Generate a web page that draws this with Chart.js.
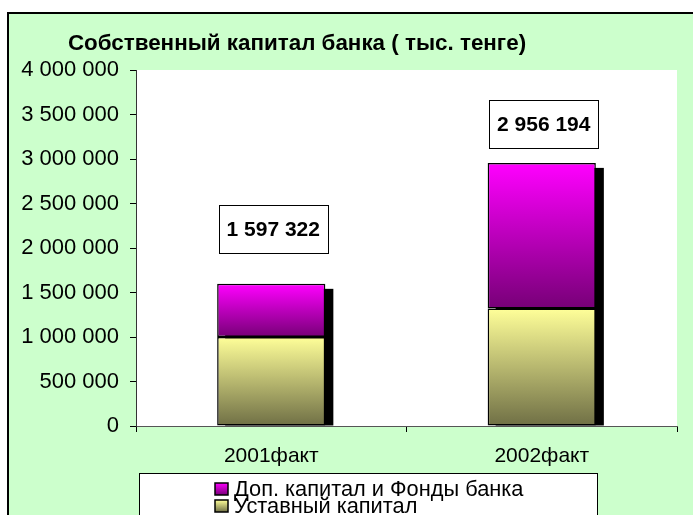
<!DOCTYPE html>
<html>
<head>
<meta charset="utf-8">
<script src="https://cdn.jsdelivr.net/npm/chart.js@4"></script>
<style>
  html, body { margin: 0; padding: 0; background: #fff; }
  #wrap { width: 693px; height: 515px; }
</style>
</head>
<body>
<div id="wrap"><canvas id="capChart" width="693" height="515"></canvas></div>
<script>
// --- DATA ---
const categories = ['2001факт', '2002факт'];
const charterCapital = [1000000, 1320000];      // Уставный капитал
const extraCapital = [597322, 1636194];         // Доп. капитал и Фонды банка
const yTicks = [0, 500000, 1000000, 1500000, 2000000, 2500000, 3000000, 3500000, 4000000];
const titleText = 'Собственный капитал банка ( тыс. тенге)';
const seriesNames = ['Уставный капитал', 'Доп. капитал и Фонды банка'];

const FONT = "'Liberation Sans', Arial, sans-serif";

function fmt(v) {
    return String(v).replace(/\B(?=(\d{3})+(?!\d))/g, ' ');
}

// gradient for each stacked segment, from its own top to bottom
function segGradient(ctx, topColor, bottomColor) {
    const chart = ctx.chart;
    const y = chart.scales.y;
    if (!chart.chartArea || !y || ctx.dataIndex === undefined) return topColor;
    const i = ctx.dataIndex;
    let lo = 0, hi = charterCapital[i];
    if (ctx.datasetIndex === 1) { lo = charterCapital[i]; hi = lo + extraCapital[i]; }
    const y0 = y.getPixelForValue(hi);
    const y1 = y.getPixelForValue(lo);
    const g = chart.ctx.createLinearGradient(0, y0, 0, y1);
    g.addColorStop(0, topColor);
    g.addColorStop(1, bottomColor);
    return g;
}

// background + frame + title
const framePlugin = {
    id: 'frame',
    beforeDraw(chart) {
        const c = chart.ctx;
        c.save();
        c.fillStyle = '#ffffff';
        c.fillRect(0, 0, chart.width, chart.height);
        c.fillStyle = '#ccffcc';
        c.fillRect(8, 13, chart.width, chart.height);
        c.strokeStyle = '#000';
        c.lineWidth = 2;
        c.beginPath();
        c.moveTo(8, chart.height + 2);
        c.lineTo(8, 13);
        c.lineTo(chart.width + 2, 13);
        c.stroke();
        // plot area
        const a = chart.chartArea;
        c.fillStyle = '#ffffff';
        c.fillRect(a.left, a.top, a.right - a.left, a.bottom - a.top);
        // title
        c.fillStyle = '#000';
        c.font = 'bold 22.4px ' + FONT;
        c.textAlign = 'center';
        c.textBaseline = 'alphabetic';
        c.fillText(titleText, 297, 50);
        c.restore();
    }
};

// black shadow behind the stacks
const shadowPlugin = {
    id: 'shadow',
    beforeDatasetsDraw(chart) {
        const c = chart.ctx;
        const m0 = chart.getDatasetMeta(0);
        const m1 = chart.getDatasetMeta(1);
        c.save();
        c.fillStyle = '#000';
        m1.data.forEach((top, i) => {
            const base = m0.data[i].base;
            const w = top.width;
            c.fillRect(top.x - w / 2 + 8, top.y + 5, w, base - top.y - 5);
        });
        c.restore();
    }
};

// total labels in boxes above bars
const totalsPlugin = {
    id: 'totals',
    afterDatasetsDraw(chart, args, opts) {
        const c = chart.ctx;
        const m1 = chart.getDatasetMeta(1);
        c.save();
        c.font = 'bold 21px ' + FONT;
        c.textAlign = 'center';
        c.textBaseline = 'middle';
        m1.data.forEach((el, i) => {
            const total = charterCapital[i] + extraCapital[i];
            const cx = el.x + 2;
            const cy = el.y - opts.lift[i];
            const bw = 109, bh = 48;
            c.fillStyle = '#fff';
            c.fillRect(cx - bw / 2, cy - bh / 2, bw, bh);
            c.strokeStyle = '#000';
            c.lineWidth = 1;
            c.strokeRect(Math.round(cx - bw / 2) + 0.5, Math.round(cy - bh / 2) + 0.5, bw, bh);
            c.fillStyle = '#000';
            c.fillText(fmt(total), cx, cy + 1);
        });
        c.restore();
    }
};

// legend box at the bottom
const legendPlugin = {
    id: 'boxLegend',
    afterDraw(chart) {
        const c = chart.ctx;
        c.save();
        c.fillStyle = '#fff';
        c.fillRect(139, 473, 458, 60);
        c.strokeStyle = '#000';
        c.lineWidth = 1;
        c.strokeRect(139.5, 473.5, 458, 60);
        const items = [
            { label: chart.data.datasets[1].label, top: '#ff00ff', bottom: '#770077', y: 489 },
            { label: chart.data.datasets[0].label, top: '#ffff99', bottom: '#6f6f45', y: 506 }
        ];
        c.font = '21.8px ' + FONT;
        c.textAlign = 'left';
        c.textBaseline = 'middle';
        items.forEach(it => {
            const g = c.createLinearGradient(0, it.y - 6, 0, it.y + 6);
            g.addColorStop(0, it.top);
            g.addColorStop(1, it.bottom);
            c.fillStyle = g;
            c.fillRect(215, it.y - 6, 13, 12);
            c.strokeStyle = '#000';
            c.lineWidth = 1.5;
            c.strokeRect(215, it.y - 6, 13, 12);
            c.fillStyle = '#000';
            c.fillText(it.label, 234, it.y + 1);
        });
        c.restore();
    }
};

new Chart(document.getElementById('capChart'), {
    type: 'bar',
    data: {
        labels: categories,
        datasets: [{
            label: seriesNames[0],
            data: charterCapital,
            backgroundColor: ctx => segGradient(ctx, '#ffff99', '#6f6f45'),
            borderColor: '#000',
            borderWidth: 1.5,
            borderSkipped: false,
            barPercentage: 0.4,
            categoryPercentage: 1
        }, {
            label: seriesNames[1],
            data: extraCapital,
            backgroundColor: ctx => segGradient(ctx, '#ff00ff', '#770077'),
            borderColor: '#000',
            borderWidth: 1.5,
            borderSkipped: false,
            barPercentage: 0.4,
            categoryPercentage: 1
        }]
    },
    options: {
        responsive: false,
        animation: false,
        events: [],
        layout: { padding: { top: 70, right: 16, left: 0, bottom: 0 } },
        plugins: {
            legend: { display: false },
            title: { display: false },
            tooltip: { enabled: false },
            totals: { lift: [55, 39] }
        },
        scales: {
            x: {
                stacked: true,
                afterFit: s => { s.height = 89; },
                grid: { offset: true, drawOnChartArea: false, drawTicks: true, tickLength: 6, color: '#000' },
                border: { display: true, color: '#555', width: 1 },
                ticks: { color: '#000', font: { family: FONT, size: 21 }, padding: 12, maxRotation: 0 }
            },
            y: {
                stacked: true,
                min: 0,
                max: 4000000,
                afterFit: s => { s.width = 136; },
                afterBuildTicks: s => { s.ticks = yTicks.map(v => ({ value: v })); },
                grid: { drawOnChartArea: false, drawTicks: true, tickLength: 6, color: '#000' },
                border: { display: true, color: '#333', width: 1 },
                ticks: { color: '#000', font: { family: FONT, size: 22 }, padding: 11, callback: v => fmt(v) }
            }
        }
    },
    plugins: [framePlugin, shadowPlugin, totalsPlugin, legendPlugin]
});
</script>
</body>
</html>
